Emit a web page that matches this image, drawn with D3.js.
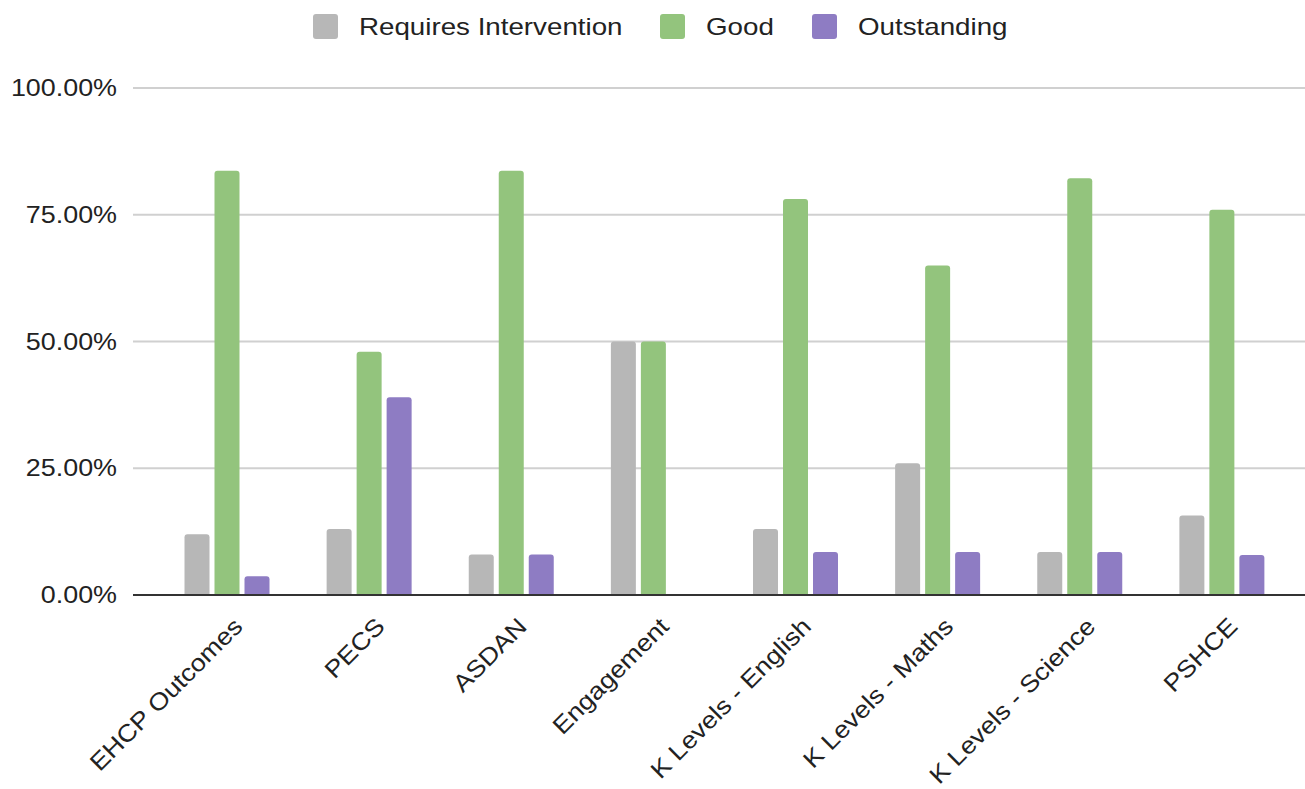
<!DOCTYPE html>
<html>
<head>
<meta charset="utf-8">
<style>
  body { margin: 0; background: #fff; }
  svg text { font-family: "Liberation Sans", Arial, sans-serif; fill: #222; }
</style>
</head>
<body>
<svg width="1305" height="789"></svg>
<script src="https://cdnjs.cloudflare.com/ajax/libs/d3/7.8.5/d3.min.js"></script>
<script>
// chart data
var categories = ["EHCP Outcomes", "PECS", "ASDAN", "Engagement",
                  "K Levels - English", "K Levels - Maths", "K Levels - Science", "PSHCE"];
var series = ["Requires Intervention", "Good", "Outstanding"];
var requiresIntervention = [0.12, 0.13, 0.08, 0.50, 0.13, 0.26, 0.085, 0.157];
var good = [0.837, 0.48, 0.837, 0.50, 0.781, 0.65, 0.822, 0.76];
var outstanding = [0.037, 0.39, 0.08, 0, 0.085, 0.085, 0.085, 0.079];
var yTicks = [0, 0.25, 0.5, 0.75, 1];
var colors = ["#b7b7b7", "#93c47d", "#8e7cc3"];

var svg = d3.select("svg"),
    margin = {top: 88, right: 0, bottom: 194, left: 133},
    width = +svg.attr("width") - margin.left - margin.right,
    height = +svg.attr("height") - margin.top - margin.bottom,
    g = svg.append("g").attr("transform", "translate(" + margin.left + "," + margin.top + ")");

// text in the picture is a bit wider than plain Arial
function widen(sel, k) {
  sel.each(function() {
    var w = this.getComputedTextLength();
    d3.select(this).attr("textLength", w * k).attr("lengthAdjust", "spacingAndGlyphs");
  });
}

var rows = categories.map(function(c, i) {
  return {cat: c, vals: [requiresIntervention[i], good[i], outstanding[i]]};
});

var x0 = d3.scaleBand().domain(categories).range([23, 1160]).padding(0);
var x1 = d3.scaleBand().domain(series).range([28.5, 113.5]).paddingInner(1 / 6);
var y = d3.scaleLinear().domain([0, 1]).range([height, 0]);
var color = d3.scaleOrdinal().domain(series).range(colors);

// gridlines
g.append("g")
  .selectAll("line")
  .data(yTicks.slice(1))
  .enter().append("line")
    .attr("x1", 0).attr("x2", width)
    .attr("y1", function(d) { return y(d); })
    .attr("y2", function(d) { return y(d); })
    .attr("stroke", "#d0d0d0")
    .attr("stroke-width", 2);

// y labels
var yAxis = g.append("g")
  .call(d3.axisLeft(y).tickValues(yTicks).tickFormat(d3.format(".2%")).tickSize(0).tickPadding(16));
yAxis.select(".domain").remove();
yAxis.selectAll("text")
  .style("font-size", "24px")
  .style("font-family", "Liberation Sans, Arial, sans-serif")
  .attr("fill", "#222")
  .call(widen, 1.12);

// bars, rounded top corners only
function barPath(x, w, top, bottom, r) {
  var h = bottom - top;
  if (h <= 0) return "";
  r = Math.min(r, h, w / 2);
  return "M" + x + "," + bottom +
    "V" + (top + r) +
    "Q" + x + "," + top + " " + (x + r) + "," + top +
    "H" + (x + w - r) +
    "Q" + (x + w) + "," + top + " " + (x + w) + "," + (top + r) +
    "V" + bottom + "Z";
}

var groups = g.append("g")
  .selectAll("g")
  .data(rows)
  .enter().append("g")
    .attr("transform", function(d) { return "translate(" + x0(d.cat) + ",0)"; });

groups.selectAll("path")
  .data(function(d) { return series.map(function(s, i) { return {key: s, value: d.vals[i]}; }); })
  .enter().append("path")
    .attr("fill", function(d) { return color(d.key); })
    .attr("d", function(d) { return barPath(x1(d.key), x1.bandwidth(), y(d.value), y(0), 3); });

// baseline
g.append("line")
  .attr("x1", 0).attr("x2", width)
  .attr("y1", y(0)).attr("y2", y(0))
  .attr("stroke", "#333")
  .attr("stroke-width", 2);

// x labels
var xAxis = g.append("g")
  .attr("transform", "translate(0," + height + ")")
  .call(d3.axisBottom(x0).tickSize(0).tickPadding(0));
xAxis.select(".domain").remove();
xAxis.selectAll("text")
  .style("font-size", "24px")
  .style("font-family", "Liberation Sans, Arial, sans-serif")
  .attr("fill", "#222")
  .attr("text-anchor", "end")
  .attr("dy", "0.35em")
  .attr("transform", "translate(11,27) rotate(-45)")
  .call(widen, 1.12);

// legend
var legend = svg.append("g").attr("transform", "translate(0,27)");
var lx = [313, 660, 812];
series.forEach(function(s, i) {
  legend.append("rect")
    .attr("x", lx[i]).attr("y", -13)
    .attr("width", 25).attr("height", 25)
    .attr("rx", 3)
    .attr("fill", color(s));
  legend.append("text")
    .attr("x", lx[i] + 46).attr("y", 0)
    .attr("dy", "0.35em")
    .style("font-size", "24px")
    .text(s)
    .call(widen, 1.155);
});
</script>
</body>
</html>
